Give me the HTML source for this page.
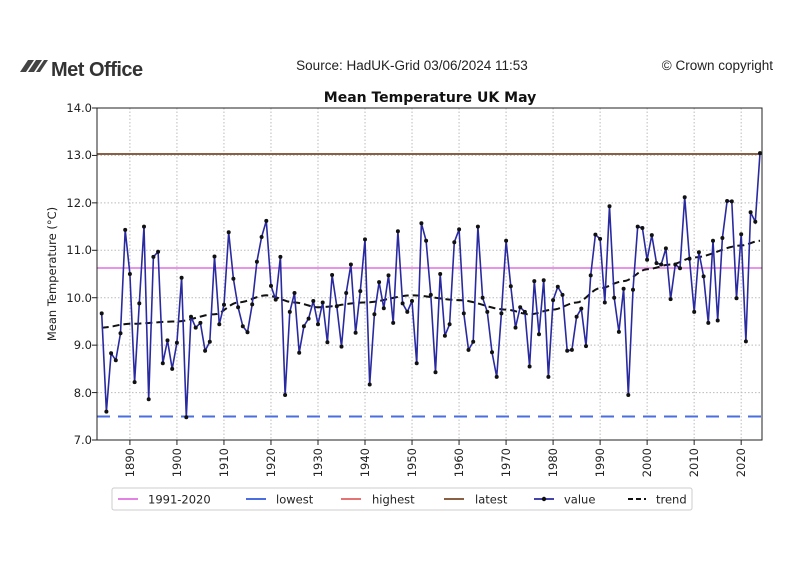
<!DOCTYPE html>
<html><head><meta charset="utf-8"><style>
body{margin:0;background:#fff;width:800px;height:559px;overflow:hidden;font-family:"Liberation Sans",sans-serif}
</style></head><body>
<svg id="s" width="800" height="559" xmlns="http://www.w3.org/2000/svg" font-family="DejaVu Sans, sans-serif">
<rect width="800" height="559" fill="#fff"/>
<path d="M20 72 l8 -12 h6 l-8 12z M28 72 l8 -12 h6 l-8 12z M36 72 l8 -12 h4 l-8 12z" fill="#444"/>
<text x="51" y="76" font-size="20" font-weight="bold" fill="#333" letter-spacing="-0.5" font-family="Liberation Sans, sans-serif">Met Office</text>
<text x="412" y="70" font-size="13.5" text-anchor="middle" fill="#222" font-family="Liberation Sans, sans-serif">Source: HadUK-Grid 03/06/2024 11:53</text>
<text x="773" y="70" font-size="13.5" text-anchor="end" fill="#222" font-family="Liberation Sans, sans-serif">© Crown copyright</text>
<text x="430" y="102" font-size="14" font-weight="bold" text-anchor="middle" fill="#111">Mean Temperature UK May</text>
<g id="grid" stroke="#bbb" stroke-dasharray="1.5,2" stroke-width="1"></g>
<line x1="97" y1="268" x2="762" y2="268" stroke="#e070e0" stroke-width="1.6"/>
<line x1="97" y1="416.5" x2="762" y2="416.5" stroke="#4a6ee0" stroke-width="2" stroke-dasharray="13,8"/>
<line x1="97" y1="154" x2="762" y2="154" stroke="#7a4a2a" stroke-width="1.8"/>
<polyline id="trend" fill="none" stroke="#111" stroke-width="2" stroke-dasharray="7,4"/>
<polyline id="val" fill="none" stroke="#2a2aa0" stroke-width="1.6"/>
<g id="mk" fill="#111"></g>
<rect x="97" y="108" width="665" height="332" fill="none" stroke="#222" stroke-width="1"/>
<g id="ticks" stroke="#222"></g>
<g font-size="11.5" fill="#222" text-anchor="end">
<text x="92" y="112">14.0</text><text x="92" y="207">12.0</text><text x="92" y="159">13.0</text>
<text x="92" y="254">11.0</text><text x="92" y="302">10.0</text><text x="92" y="349">9.0</text>
<text x="92" y="397">8.0</text><text x="92" y="444">7.0</text>
</g>
<g id="xl" font-size="11.5" fill="#222" text-anchor="end"></g>
<text transform="translate(56,274) rotate(-90)" font-size="11.5" text-anchor="middle" fill="#222">Mean Temperature (°C)</text>
<rect x="112" y="488" width="580" height="22" rx="2" fill="#fff" stroke="#ccc"/>
<g font-size="11.5" fill="#222">
<line x1="118" y1="499" x2="138" y2="499" stroke="#e070e0" stroke-width="1.8"/><text x="148" y="503.5">1991-2020</text>
<line x1="246" y1="499" x2="266" y2="499" stroke="#4a6ee0" stroke-width="2"/><text x="276" y="503.5">lowest</text>
<line x1="341" y1="499" x2="361" y2="499" stroke="#e06060" stroke-width="1.8"/><text x="372" y="503.5">highest</text>
<line x1="444" y1="499" x2="464" y2="499" stroke="#7a4a2a" stroke-width="1.8"/><text x="475" y="503.5">latest</text>
<line x1="534" y1="499" x2="554" y2="499" stroke="#2a2aa0" stroke-width="1.8"/><circle cx="544" cy="499" r="2.2" fill="#111"/><text x="564" y="503.5">value</text>
<line x1="628" y1="499" x2="646" y2="499" stroke="#111" stroke-width="2" stroke-dasharray="5,3"/><text x="656" y="503.5">trend</text>
</g>
</svg>
<script>
var v=[9.67,7.6,8.83,8.68,9.25,11.43,10.5,8.22,9.88,11.5,7.86,10.86,10.97,8.62,9.1,8.5,9.05,10.42,7.48,9.6,9.37,9.47,8.88,9.07,10.87,9.44,9.85,11.38,10.4,9.8,9.4,9.27,9.86,10.76,11.28,11.62,10.25,9.96,10.86,7.95,9.7,10.1,8.84,9.4,9.56,9.93,9.44,9.9,9.06,10.48,9.82,8.97,10.1,10.7,9.26,10.14,11.23,8.17,9.65,10.33,9.78,10.47,9.47,11.4,9.88,9.7,9.93,8.62,11.57,11.2,10.06,8.43,10.5,9.2,9.44,11.17,11.44,9.67,8.9,9.07,11.5,10.0,9.7,8.85,8.33,9.67,11.2,10.24,9.37,9.8,9.7,8.55,10.35,9.23,10.37,8.33,9.95,10.23,10.06,8.88,8.9,9.6,9.77,8.98,10.47,11.33,11.24,9.9,11.93,10.0,9.28,10.19,7.95,10.17,11.5,11.47,10.8,11.32,10.73,10.7,11.04,9.97,10.7,10.62,12.12,10.82,9.7,10.96,10.45,9.47,11.2,9.52,11.26,12.04,12.03,9.99,11.34,9.08,11.8,11.6,13.05];
var X=function(y){return 101.7+(y-1884)*4.702},Y=function(t){return 108+(14-t)*47.43};
var p=[],mk="";for(var i=0;i<v.length;i++){var x=X(1884+i),y=Y(v[i]);p.push(x.toFixed(1)+","+y.toFixed(1));mk+='<circle cx="'+x.toFixed(1)+'" cy="'+y.toFixed(1)+'" r="2"/>';}
document.getElementById("val").setAttribute("points",p.join(" "));
document.getElementById("mk").innerHTML=mk;
var tc=[[1884,9.37],[1890,9.45],[1900,9.5],[1908,9.65],[1913,9.9],[1919,10.05],[1925,9.9],[1930,9.8],[1940,9.9],[1950,10.05],[1960,9.95],[1970,9.75],[1975,9.65],[1980,9.75],[1985,9.9],[1990,10.2],[1995,10.35],[2000,10.6],[2005,10.7],[2010,10.85],[2020,11.1],[2024,11.2]];
var tp=[];for(var yr=1884;yr<=2024;yr+=0.5){for(var k=0;k<tc.length-1&&tc[k+1][0]<yr;k++);var a=tc[k],b=tc[Math.min(k+1,tc.length-1)];var f=b[0]==a[0]?0:(yr-a[0])/(b[0]-a[0]);f=f*f*(3-2*f);tp.push(X(yr).toFixed(1)+","+Y(a[1]+(b[1]-a[1])*f).toFixed(1));}
document.getElementById("trend").setAttribute("points",tp.join(" "));
var g="",t="",xl="";for(var yr=1890;yr<=2020;yr+=10){var x=X(yr);g+='<line x1="'+x+'" y1="108" x2="'+x+'" y2="440"/>';t+='<line x1="'+x+'" y1="440" x2="'+x+'" y2="445"/>';xl+='<text transform="translate('+(x+4).toFixed(1)+',448) rotate(-90)">'+yr+'</text>';}
for(var c=8;c<=13;c++){var y=Y(c);g+='<line x1="97" y1="'+y+'" x2="762" y2="'+y+'"/>';}
for(var c=7;c<=14;c++){var y=Y(c);t+='<line x1="92" y1="'+y+'" x2="97" y2="'+y+'"/>';}
document.getElementById("grid").innerHTML=g;document.getElementById("ticks").innerHTML=t;document.getElementById("xl").innerHTML=xl;
</script>
</body></html>
